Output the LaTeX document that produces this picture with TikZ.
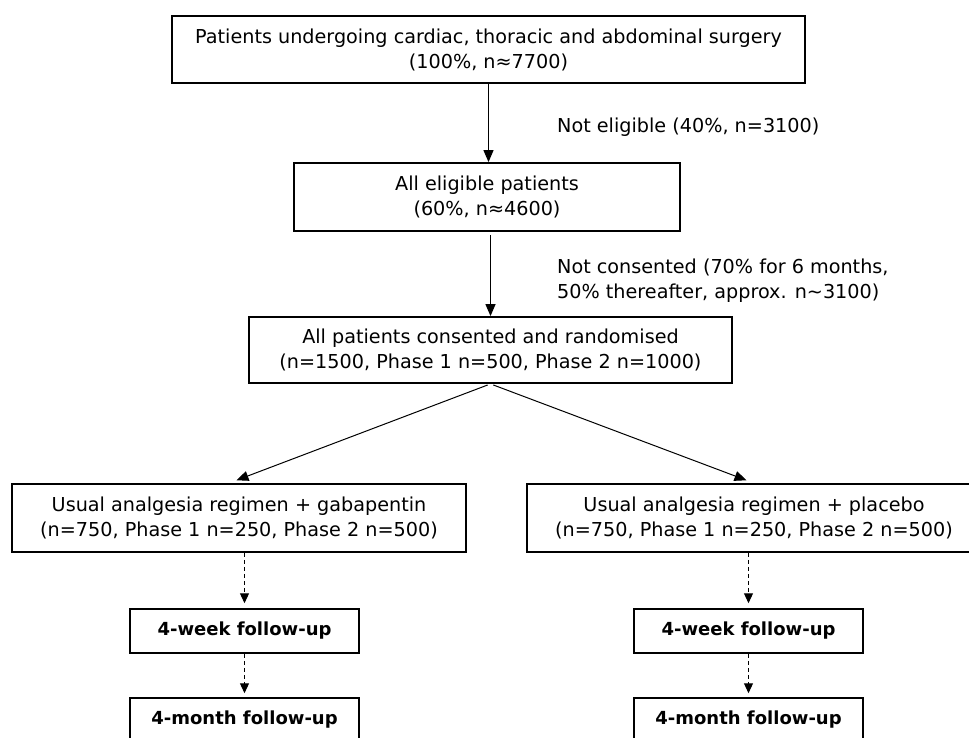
\documentclass[tikz,border=0pt]{standalone}
\usepackage{fontspec}
\setmainfont{DejaVu Sans}
\usetikzlibrary{arrows.meta}
\tikzset{%
  flowbox/.style = {shape=rectangle, draw, line width=1.8pt, align=center,%
                    inner sep=0pt, font=\fontsize{19.2}{25}\selectfont},%
  armbox/.style  = {flowbox, minimum width=454pt, minimum height=68pt},%
  fupbox/.style  = {shape=rectangle, draw, line width=1.5pt, inner sep=0pt,%
                    minimum width=229pt, minimum height=44pt,%
                    font=\fontsize{18}{22}\selectfont\bfseries},%
  note/.style    = {anchor=west, align=left, inner sep=0pt,%
                    font=\fontsize{19.2}{25}\selectfont},%
  flow/.style    = {line width=1.2pt, -{Triangle[length=12pt,width=10pt]}},%
  fupflow/.style = {line width=1.1pt, dash pattern=on 4pt off 3pt,%
                    -{Triangle[length=10pt,width=9pt]}}%
}
\begin{document}
\begin{tikzpicture}[x=1pt,y=-1pt]
	\useasboundingbox (0,0) rectangle (969,737);
	\clip (0,0) rectangle (969,737);
	% main stream
	\node[flowbox, minimum width=633pt, minimum height=67pt] (top) at (488.5,49.5)
		{Patients undergoing cardiac, thoracic and abdominal surgery\\(100\%, n≈7700)};
	\node[flowbox, minimum width=386pt, minimum height=68pt] (elig) at (487,197)
		{All eligible patients\\(60\%, n≈4600)};
	\node[flowbox, minimum width=483pt, minimum height=66pt] (rand) at (490.5,350)
		{All patients consented and randomised\\(n=1500, Phase 1 n=500, Phase 2 n=1000)};
	\node[note] (noteli) at (557,127) {Not eligible (40\%, n=3100)};
	\node[note] (nocons) at (557,281)
		{Not consented (70\% for 6 months,\\50\% thereafter, approx. n\textasciitilde3100)};
	\draw[flow] (top.south) -- (top.south |- elig.north);
	\draw[flow, shorten <=3pt] (rand.north |- elig.south) -- (rand.north);
	% two arms
	\node[armbox] (gaba) at (239,518)
		{Usual analgesia regimen + gabapentin\\(n=750, Phase 1 n=250, Phase 2 n=500)};
	\node[armbox] (plac) at (754,518)
		{Usual analgesia regimen + placebo\\(n=750, Phase 1 n=250, Phase 2 n=500)};
	\draw[flow, line width=1pt, shorten <=3pt, shorten >=8pt] (rand.south) -- ([xshift=-10pt]gaba.north);
	\draw[flow, line width=1pt, shorten <=3pt, shorten >=8pt] (rand.south) -- (plac.north);
	% follow-up
	\node[fupbox] (gabaweek)  at (244.5,631) {4-week follow-up};
	\node[fupbox] (gabamonth) at (244.5,720) {4-month follow-up};
	\node[fupbox] (placweek)  at (748.5,631) {4-week follow-up};
	\node[fupbox] (placmonth) at (748.5,720) {4-month follow-up};
	\draw[fupflow, shorten >=5pt] (gabaweek.north |- gaba.south) -- (gabaweek.north);
	\draw[fupflow, shorten >=4pt] (gabaweek.south) -- (gabamonth.north);
	\draw[fupflow, shorten >=5pt] (placweek.north |- plac.south) -- (placweek.north);
	\draw[fupflow, shorten >=4pt] (placweek.south) -- (placmonth.north);
\end{tikzpicture}
\end{document}
